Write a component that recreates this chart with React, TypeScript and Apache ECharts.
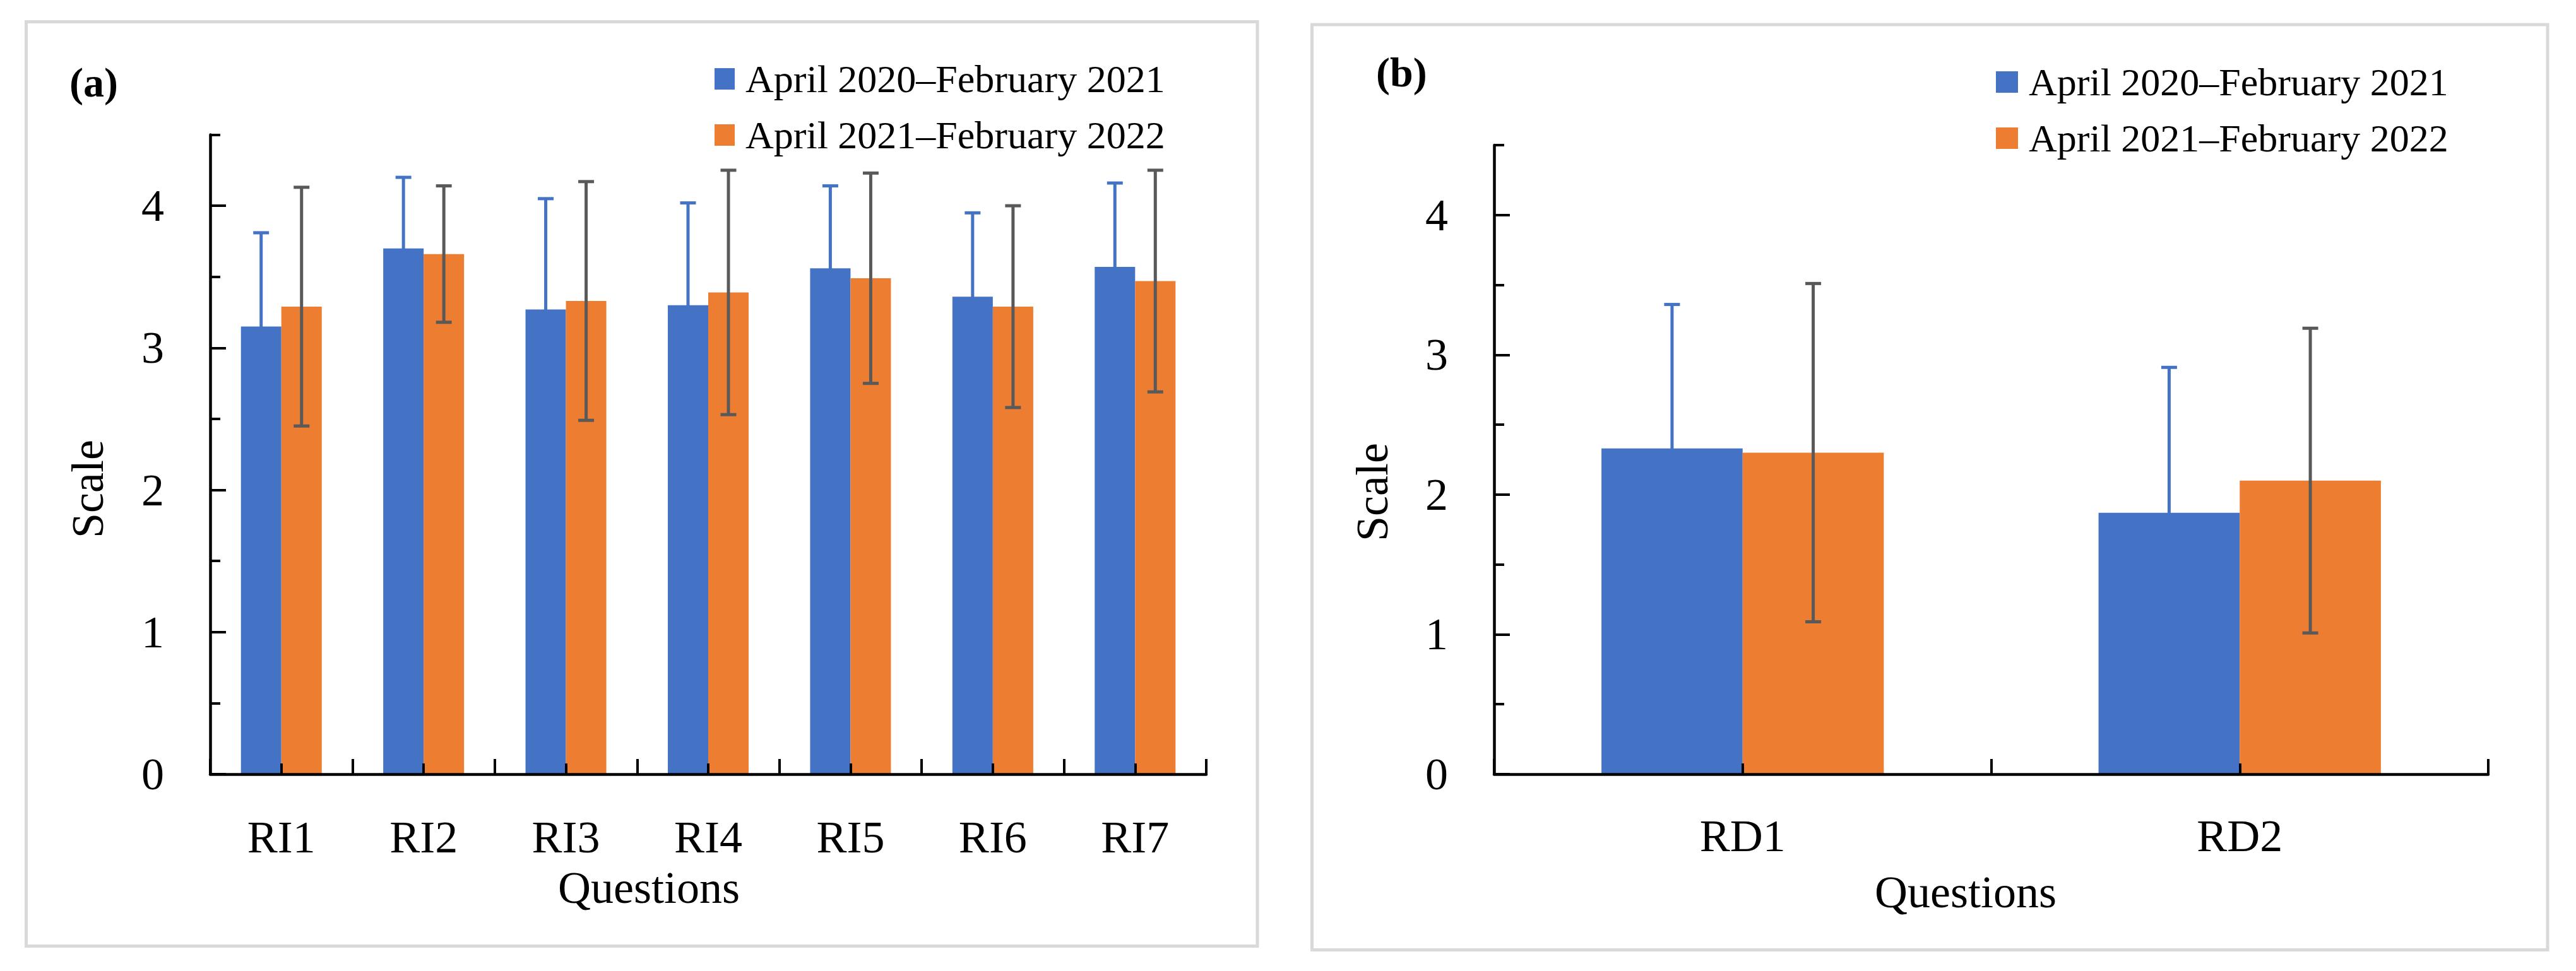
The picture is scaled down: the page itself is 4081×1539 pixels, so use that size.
import React, { useEffect, useRef } from "react";
import * as echarts from "echarts";

const FONT = '"Liberation Serif", "Times New Roman", serif';

const seriesNames = ["April 2020–February 2021", "April 2021–February 2022"];

// Panel (a)
const catsA = ["RI1", "RI2", "RI3", "RI4", "RI5", "RI6", "RI7"];
const aBlue = [3.15, 3.7, 3.27, 3.3, 3.56, 3.36, 3.57];
const aBlueSD = [0.66, 0.5, 0.78, 0.72, 0.58, 0.59, 0.59];
const aOrange = [3.29, 3.66, 3.33, 3.39, 3.49, 3.29, 3.47];
const aOrangeSD = [0.84, 0.48, 0.84, 0.86, 0.74, 0.71, 0.78];

// Panel (b)
const catsB = ["RD1", "RD2"];
const bBlue = [2.33, 1.87];
const bBlueSD = [1.03, 1.04];
const bOrange = [2.3, 2.1];
const bOrangeSD = [1.21, 1.09];

const yMajor = [0, 1, 2, 3, 4];
const yMinor = [0.5, 1.5, 2.5, 3.5, 4.5];

const BLUE = "#4472C4";
const ORANGE = "#ED7D31";
const GRAY = "#595959";

function makeErr(color: string, sign: number) {
  return (params: any, api: any) => {
    const i = api.value(0);
    const m = api.value(1);
    const sd = api.value(2);
    const band = api.size([1, 0])[0];
    const off = sign * band * 0.142;
    const top = api.coord([i, m + sd]);
    const bot = api.coord([i, m - sd]);
    const x = top[0] + off;
    const hw = 12.5;
    const style = { stroke: color, lineWidth: 5 };
    return {
      type: "group",
      children: [
        { type: "line", shape: { x1: x, y1: top[1], x2: x, y2: bot[1] }, style },
        { type: "line", shape: { x1: x - hw, y1: top[1], x2: x + hw, y2: top[1] }, style },
        { type: "line", shape: { x1: x - hw, y1: bot[1], x2: x + hw, y2: bot[1] }, style },
      ],
    };
  };
}

function xAxes(gridIndex: number, cats: string[], margin: number) {
  return [
    {
      type: "category",
      gridIndex,
      position: "bottom",
      z: 6,
      data: cats,
      boundaryGap: true,
      axisLine: { show: true, lineStyle: { color: "#000", width: 4.5 } },
      axisTick: { show: true, inside: true, length: 24, interval: 0, alignWithLabel: false, lineStyle: { color: "#000", width: 4 } },
      axisLabel: { show: true, interval: 0, margin, fontSize: 72, fontFamily: FONT, color: "#000" },
      splitLine: { show: false },
    },
    {
      type: "category",
      gridIndex,
      position: "bottom",
      offset: 0,
      z: 6,
      data: cats,
      boundaryGap: true,
      axisLine: { show: false },
      axisTick: { show: true, inside: true, length: 17, interval: 0, alignWithLabel: true, lineStyle: { color: "#000", width: 4 } },
      axisLabel: { show: false },
      splitLine: { show: false },
    },
  ];
}

function yAxes(gridIndex: number) {
  return [
    {
      type: "value",
      gridIndex,
      position: "left",
      z: 6,
      min: 0,
      max: 4.5,
      interval: 0.5,
      axisLine: { show: true, lineStyle: { color: "#000", width: 4.5 } },
      axisTick: { show: true, inside: true, length: 25, customValues: yMajor, lineStyle: { color: "#000", width: 4 } },
      axisLabel: {
        show: true,
        margin: 73,
        fontSize: 72,
        fontFamily: FONT,
        color: "#000",
        customValues: yMajor,
        formatter: (v: number) => (Number.isInteger(v) ? String(v) : ""),
      },
      splitLine: { show: false },
    },
    {
      type: "value",
      gridIndex,
      position: "left",
      offset: 0,
      z: 6,
      min: 0,
      max: 4.5,
      interval: 0.5,
      axisLine: { show: false },
      axisTick: { show: true, inside: true, length: 16, customValues: yMinor, lineStyle: { color: "#000", width: 4 } },
      axisLabel: { show: false },
      splitLine: { show: false },
    },
  ];
}

function seriesFor(gi: number, cats: string[], blue: number[], blueSD: number[], orange: number[], orangeSD: number[]) {
  const xi = gi * 2;
  const yi = gi * 2;
  return [
    {
      name: seriesNames[0],
      type: "bar",
      xAxisIndex: xi,
      yAxisIndex: yi,
      data: blue,
      barWidth: "28.4%",
      barGap: "0%",
      itemStyle: { color: BLUE },
    },
    {
      name: seriesNames[1],
      type: "bar",
      xAxisIndex: xi,
      yAxisIndex: yi,
      data: orange,
      barWidth: "28.4%",
      barGap: "0%",
      itemStyle: { color: ORANGE },
    },
    {
      name: "errBlue" + gi,
      type: "custom",
      xAxisIndex: xi,
      yAxisIndex: yi,
      z: 5,
      encode: { x: 0, y: 1 },
      data: cats.map((_, i) => [i, blue[i], blueSD[i]]),
      renderItem: makeErr(BLUE, -1),
    },
    {
      name: "errOrange" + gi,
      type: "custom",
      xAxisIndex: xi,
      yAxisIndex: yi,
      z: 5,
      encode: { x: 0, y: 1 },
      data: cats.map((_, i) => [i, orange[i], orangeSD[i]]),
      renderItem: makeErr(GRAY, 1),
    },
  ];
}

function legendAt(left: number, top: number, w: number) {
  return {
    orient: "vertical",
    left,
    top,
    itemWidth: w,
    itemHeight: 34,
    itemGap: 27,
    icon: "rect",
    selectedMode: false,
    data: seriesNames,
    textStyle: { fontSize: 62, fontFamily: FONT, color: "#000", padding: [0, 0, 0, 12] },
  };
}

function txt(text: string, x: number, y: number, size: number, bold = false, rotation = 0, align = "center") {
  return {
    type: "text",
    x,
    y,
    rotation,
    style: {
      text,
      font: `${bold ? "bold " : ""}${size}px ${FONT}`,
      fill: "#000",
      align,
      verticalAlign: "middle",
      textAlign: align,
      textVerticalAlign: "middle",
    },
  };
}

export default function App() {
  const ref = useRef<HTMLDivElement>(null);
  useEffect(() => {
    document.body.style.margin = "0";
    if (!ref.current) return;
    const chart = echarts.init(ref.current, null, { renderer: "svg" });
    const option: any = {
      animation: false,
      backgroundColor: "#fff",
      grid: [
        { left: 333, top: 213.5, width: 1578, height: 1013.5, outerBoundsMode: "none", containLabel: false },
        { left: 2367, top: 230, width: 1575, height: 997, outerBoundsMode: "none", containLabel: false },
      ],
      xAxis: [...xAxes(0, catsA, 64), ...xAxes(1, catsB, 62)],
      yAxis: [...yAxes(0), ...yAxes(1)],
      legend: [legendAt(1127, 89, 32), legendAt(3157, 94, 35)],
      series: [
        ...seriesFor(0, catsA, aBlue, aBlueSD, aOrange, aOrangeSD),
        ...seriesFor(1, catsB, bBlue, bBlueSD, bOrange, bOrangeSD),
      ],
      graphic: [
        { type: "rect", shape: { x: 41.5, y: 34.5, width: 1950.5, height: 1465 }, style: { fill: "none", stroke: "#d9d9d9", lineWidth: 5 } },
        { type: "rect", shape: { x: 2078.5, y: 39, width: 1957.5, height: 1466.5 }, style: { fill: "none", stroke: "#d9d9d9", lineWidth: 5 } },
        txt("(a)", 110, 130, 66, true, 0, "left"),
        txt("(b)", 2180, 114, 66, true, 0, "left"),
        txt("Questions", 1028, 1407, 72),
        txt("Questions", 3114, 1414, 72),
        txt("Scale", 139, 775, 72, false, Math.PI / 2),
        txt("Scale", 2174, 780, 72, false, Math.PI / 2),
      ],
    };
    chart.setOption(option);
    return () => chart.dispose();
  }, []);
  return <div ref={ref} style={{ width: 4081, height: 1539 }} />;
}
